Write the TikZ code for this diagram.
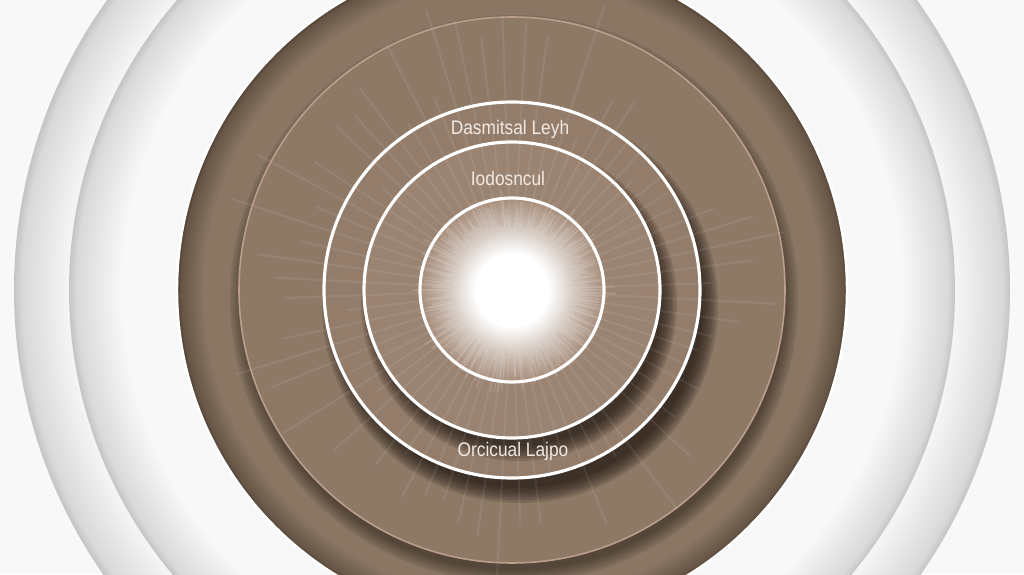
\documentclass[tikz,border=0pt]{standalone}
\usepackage{fontspec}
\newfontfamily\labelfont[FakeStretch=0.88]{Liberation Sans}
\usetikzlibrary{calc}

\definecolor{bgwhite}{HTML}{F8F8F8}
\definecolor{rimgray}{HTML}{C4C4C4}
\definecolor{diskbrown}{HTML}{8A7663}
\definecolor{rimbrown}{HTML}{4E3F32}
\definecolor{litebrown}{HTML}{8E7966}
\definecolor{pinkline}{HTML}{BC9E8C}
\definecolor{ringthree}{HTML}{937C6A}
\definecolor{ringtwo}{HTML}{9A8371}
\definecolor{ringone}{HTML}{A68D7B}
\definecolor{shadowbrown}{HTML}{1E1610}
\definecolor{labelwhite}{HTML}{F1E9E3}

\pgfdeclareradialshading{whiterim}{\pgfpoint{0bp}{0bp}}{color(0bp)=(bgwhite); color(22bp)=(bgwhite); color(24.6bp)=(rimgray!60!bgwhite); color(25bp)=(rimgray); color(50bp)=(rimgray)}
\pgfdeclareradialshading{brownrim}{\pgfpoint{0bp}{0bp}}{color(0bp)=(diskbrown); color(23bp)=(diskbrown); color(24.7bp)=(rimbrown!60!diskbrown); color(25bp)=(rimbrown); color(50bp)=(rimbrown)}
\pgfdeclareradialshading{coreglow}{\pgfpoint{0bp}{0bp}}{color(0bp)=(white); color(10bp)=(white); color(17bp)=(white!45!ringone); color(25bp)=(ringone); color(50bp)=(ringone)}

\tikzset{
  ringline/.style={white, line width=0.9pt},
  layertext/.style={labelwhite, font=\labelfont\fontsize{5.6}{6}\selectfont, inner sep=0pt},
  shortray/.style={white, opacity=0.14, line width=0.5pt},
  longray/.style={white, opacity=0.07, line width=0.6pt}
}

\begin{document}
\begin{tikzpicture}
    \useasboundingbox (0,0) rectangle (10.24,5.74);
    \clip (0,0) rectangle (10.24,5.74);
    \coordinate (C) at (5.12,2.84);

    % white background rings
    \fill[bgwhite] (0,0) rectangle (10.24,5.74);
    \shade[shading=whiterim] (C) circle (4.98);
    \shade[shading=whiterim] (C) circle (4.43);

    % brown disk
    \shade[shading=brownrim] (C) circle (3.35);
    \draw[white, line width=0.7pt] (C) circle (3.35);

    % lighter disk with its shadow
    \foreach \s in {0,...,5}
        \fill[shadowbrown, opacity=0.1] ([shift={(0.02,-0.09)}]C) circle ({2.84-0.025*\s});
    \fill[litebrown] (C) circle (2.73);
    \draw[pinkline, line width=0.45pt] (C) circle (2.73);

    % outer ring
    \foreach \s in {0,...,6}
        \fill[shadowbrown, opacity=0.16] ([shift={(0.08,-0.15)}]C) circle ({1.98-0.025*\s});
    \fill[ringthree] (C) circle (1.88);

    % middle ring
    \foreach \s in {0,...,6}
        \fill[shadowbrown, opacity=0.16] ([shift={(0.07,-0.13)}]C) circle ({1.58-0.025*\s});
    \fill[ringtwo] (C) circle (1.48);

    % core
    \shade[shading=coreglow] (C) circle (0.92);

    % rays
    \pgfmathsetseed{11}
    \foreach \a in {0,2,...,358} {
        \pgfmathsetmacro\len{0.6+0.45*rnd}
        \draw[shortray] ($(C)+(\a:0.3)$) -- ($(C)+(\a:\len)$);
    }
    \foreach \a in {2,7,...,357} {
        \pgfmathsetmacro\len{1.5+1.5*rnd}
        \draw[longray] ($(C)+(\a:0.6)$) -- ($(C)+(\a:\len)$);
    }

    \draw[ringline] (C) circle (1.88);
    \draw[ringline] (C) circle (1.48);
    \draw[ringline] (C) circle (0.92);

    % labels
    \node[layertext] (outerlabel) at (5.10,4.45) {Dasmitsal Leyh};
    \node[layertext] (midlabel) at (5.08,3.96) {Iodosncul};
    \node[layertext] (bottomlabel) at (5.13,1.23) {Orcicual Lajpo};
\end{tikzpicture}
\end{document}
